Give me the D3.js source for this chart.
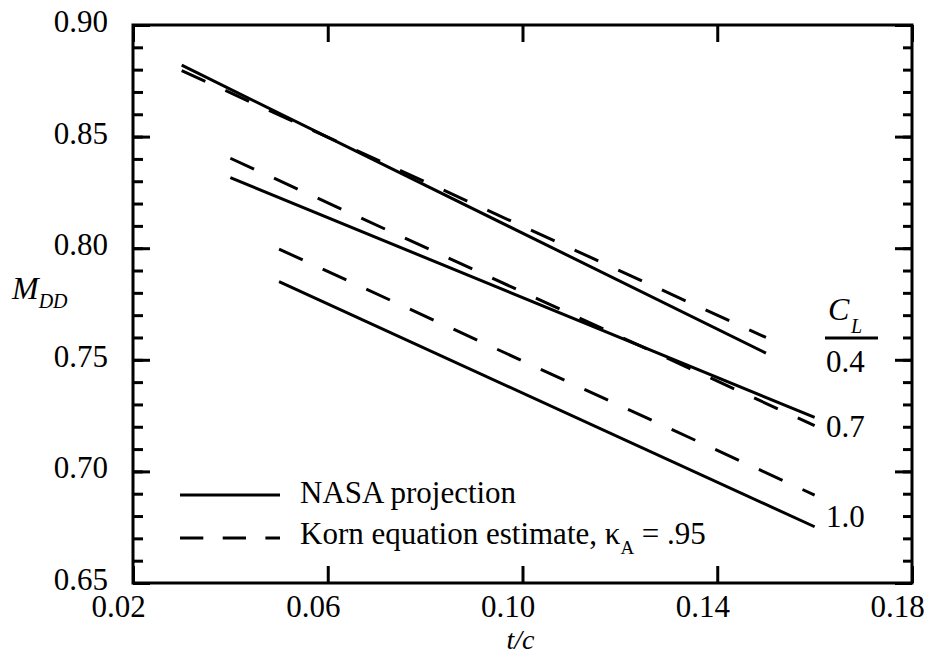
<!DOCTYPE html>
<html>
<head>
<meta charset="utf-8">
<script src="https://cdn.jsdelivr.net/npm/d3@7/dist/d3.min.js"></script>
</head>
<body style="margin:0;background:#fff">
<svg id="chart" width="930" height="655" style="display:block"></svg>
<script>
// ---- data ----
const clValues = ["0.4", "0.7", "1.0"];
const nasaX = [[0.03, 0.15], [0.04, 0.16], [0.05, 0.16]];
const nasaY = [[0.882, 0.753], [0.8316, 0.7242], [0.785, 0.6752]];
const kornX = [[0.03, 0.15], [0.04, 0.16], [0.05, 0.16]];
const kornY = [[0.8796, 0.760], [0.8403, 0.7205], [0.7996, 0.6894]];
const xTicks = [0.02, 0.06, 0.10, 0.14, 0.18];
const yTicks = [0.65, 0.70, 0.75, 0.80, 0.85, 0.90];
const yMinorTicks = d3.range(65, 91).map(d => d / 100);
const clLabelY = [0.7445, 0.7154, 0.6751];
const legendLabels = ["NASA projection", "Korn equation estimate, κ", "A", " = .95"];

// ---- layout ----
const L = 133, R = 912, T = 25, B = 583;
const FONT = '"Liberation Serif"';
const svg = d3.select("#chart");
const x = d3.scaleLinear().domain([0.02, 0.18]).range([L, R]);
const y = d3.scaleLinear().domain([0.65, 0.90]).range([B, T]);
const fmt = d3.format(".2f");
const FS = 31;

function styleAxis(g) {
  g.select(".domain").remove();
  g.selectAll(".tick line").attr("stroke", "#000").attr("stroke-width", 3);
  g.selectAll(".tick text").remove();
}
function txt(sel) { return sel.style("font-family", FONT).attr("fill", "#000"); }

// minor y ticks (left & right)
svg.append("g").attr("transform", `translate(${L},0)`)
  .call(d3.axisRight(y).tickValues(yMinorTicks).tickSize(10).tickFormat(""))
  .call(styleAxis);
svg.append("g").attr("transform", `translate(${R},0)`)
  .call(d3.axisLeft(y).tickValues(yMinorTicks).tickSize(9).tickFormat(""))
  .call(styleAxis);
// major y ticks
svg.append("g").attr("transform", `translate(${L},0)`)
  .call(d3.axisRight(y).tickValues(yTicks).tickSize(17).tickFormat(""))
  .call(styleAxis);
svg.append("g").attr("transform", `translate(${R},0)`)
  .call(d3.axisLeft(y).tickValues(yTicks).tickSize(17).tickFormat(""))
  .call(styleAxis);
// x ticks
svg.append("g").attr("transform", `translate(0,${B})`)
  .call(d3.axisTop(x).tickValues(xTicks).tickSize(17).tickFormat(""))
  .call(styleAxis);
svg.append("g").attr("transform", `translate(0,${T})`)
  .call(d3.axisBottom(x).tickValues(xTicks).tickSize(17).tickFormat(""))
  .call(styleAxis);

// tick labels
svg.append("g").selectAll("text").data(yTicks).join("text")
  .attr("x", L - 25).attr("y", d => y(d) + 7)
  .attr("text-anchor", "end").attr("font-size", FS)
  .call(txt).text(d => fmt(d));
svg.append("g").selectAll("text").data(xTicks).join("text")
  .attr("x", d => x(d) - 14.5).attr("y", B + 34)
  .attr("text-anchor", "middle").attr("font-size", FS)
  .call(txt).text(d => fmt(d));

// frame
svg.append("rect").attr("x", L).attr("y", T).attr("width", R - L).attr("height", B - T)
  .attr("fill", "none").attr("stroke", "#000").attr("stroke-width", 3);

// series
const line = d3.line().x(d => x(d[0])).y(d => y(d[1]));
const seriesG = svg.append("g");
clValues.forEach((cl, i) => {
  const nasa = nasaX[i].map((v, j) => [v, nasaY[i][j]]);
  const korn = kornX[i].map((v, j) => [v, kornY[i][j]]);
  seriesG.append("path").attr("d", line(nasa))
    .attr("fill", "none").attr("stroke", "#000").attr("stroke-width", 3);
  seriesG.append("path").attr("d", line(korn))
    .attr("fill", "none").attr("stroke", "#000").attr("stroke-width", 3)
    .attr("stroke-dasharray", "26,22");
});

// CL labels
const clG = svg.append("g");
clG.append("text").attr("x", 828).attr("y", 320).attr("font-size", 32)
  .attr("font-style", "italic").call(txt).text("C");
clG.append("text").attr("x", 851).attr("y", 333).attr("font-size", 20)
  .attr("font-style", "italic").call(txt).text("L");
clG.append("line").attr("x1", 825).attr("x2", 878).attr("y1", 338).attr("y2", 338)
  .attr("stroke", "#000").attr("stroke-width", 3);
clG.selectAll("text.cl").data(clValues).join("text").attr("class", "cl")
  .attr("x", 826).attr("y", (d, i) => y(clLabelY[i]))
  .attr("font-size", FS).call(txt).text(d => d);

// axis titles
const yt = svg.append("text").attr("x", 12).attr("y", 299)
  .attr("font-size", 32).attr("font-style", "italic").call(txt);
yt.append("tspan").text("M");
yt.append("tspan").attr("font-size", 20).attr("dy", 9).text("DD");
svg.append("text").attr("x", x(0.10) - 2).attr("y", 649)
  .attr("text-anchor", "middle")
  .attr("font-size", 28).attr("font-style", "italic").call(txt).text("t/c");

// legend
const lg = svg.append("g");
lg.append("line").attr("x1", 180).attr("x2", 280).attr("y1", 495).attr("y2", 495)
  .attr("stroke", "#000").attr("stroke-width", 3);
lg.append("line").attr("x1", 180).attr("x2", 280).attr("y1", 538).attr("y2", 538)
  .attr("stroke", "#000").attr("stroke-width", 3).attr("stroke-dasharray", "23.3,19.4");
lg.append("text").attr("x", 300).attr("y", 503).attr("font-size", 31).call(txt).text(legendLabels[0]);
const kt = lg.append("text").attr("x", 300).attr("y", 544).attr("font-size", 31).call(txt);
kt.append("tspan").text(legendLabels[1]);
kt.append("tspan").attr("font-size", 19).attr("dy", 10).text(legendLabels[2]);
kt.append("tspan").attr("dy", -10).text(legendLabels[3]);
</script>
</body>
</html>
